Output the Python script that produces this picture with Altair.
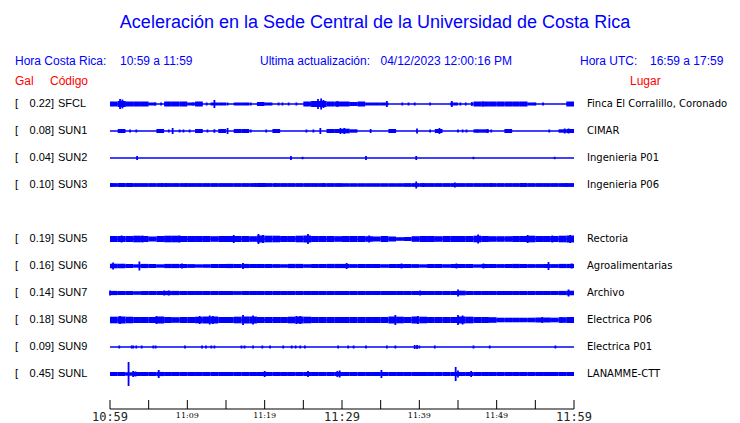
import altair as alt
import pandas as pd

# ---------------- data ----------------
STATIONS = ["SFCL", "SUN1", "SUN2", "SUN3", "SUN5", "SUN6", "SUN7", "SUN8", "SUN9", "SUNL"]
ROWS = [0, 1, 2, 3, 5, 6, 7, 8, 9, 10]
GAL = ["0.22", "0.08", "0.04", "0.10", "0.19", "0.16", "0.14", "0.18", "0.09", "0.45"]
LUGAR = ["Finca El Corralillo, Coronado", "CIMAR", "Ingenieria P01", "Ingenieria P06",
         "Rectoria", "Agroalimentarias", "Archivo", "Electrica P06", "Electrica P01", "LANAMME-CTT"]

MINUTES = list(range(60))
TICK_MINUTES = [0, 5, 10, 15, 20, 25, 30, 35, 40, 45, 50, 55, 60]
BIG_TICK_MINUTES = [0, 30, 60]
BIG_TICK_LABELS = ["10:59", "11:29", "11:59"]
SMALL_TICK_MINUTES = [10, 20, 40, 50]
SMALL_TICK_LABELS = ["11:09", "11:19", "11:39", "11:49"]

# band half-amplitude per minute (display px), 0 = quiet trace
AMP_SFCL = [2, 2.5, 2, 2, 2, 1, 0, 2, 2, 2, 1, 2, 0, 1, 1, 0, 1, 1, 0, 1.5,
            1, 0, 0, 0, 0, 2, 2.5, 2.5, 2, 2, 2, 1.5, 2, 1, 1, 1, 0, 0, 0, 0,
            0, 0, 0, 0, 1, 0, 0, 2, 2, 2, 2, 2, 2, 2, 1, 0, 0, 0, 0, 2]
AMP_SUN1 = [0, 1.5, 0, 0, 0, 0, 1.5, 0, 0, 0, 0, 1.5, 0, 0, 1.5, 0, 1.5, 1.5, 0, 0,
            0, 1.5, 0, 0, 0, 0, 0, 0, 1.5, 1.5, 1.8, 1.2, 0, 0, 0, 0, 1.5, 0, 0, 0,
            0, 0, 1.5, 0, 0, 0, 0, 1.2, 1.2, 0, 0, 1.5, 0, 0, 0, 0, 0, 0, 1.2, 1.5]
AMP_SUN2 = [0] * 60
AMP_SUN3 = [1.4, 1.4, 1.4, 1.4, 1.4, 1.4, 1.4, 1.4, 1.4, 1.4, 1.4, 1.4, 1.4, 1.4, 1.4, 1.4, 1.4, 1.4, 1.4, 1.4,
            1.4, 1.4, 1.4, 1.4, 1.4, 1.4, 1.4, 1.4, 1.4, 1.4, 1.3, 1.3, 1.3, 1.3, 1.3, 1.3, 1.3, 1.3, 1.4, 1.4,
            1.4, 1.4, 1.4, 1.4, 1.4, 1.4, 1.4, 1.4, 1.4, 1.4, 1.4, 1.4, 1.4, 1.4, 1.4, 1.4, 1.4, 1.4, 1.4, 1.4]
AMP_SUN5 = [2.5, 2.5, 2.5, 2.8, 2.5, 2, 2.5, 2.8, 2.8, 2.5, 2.5, 2.5, 2.5, 2.3, 2.5, 2.5, 2.5, 2.5, 2.3, 3,
            2.8, 2.8, 2.5, 2.5, 2.8, 3, 2.5, 2.5, 2.5, 2.3, 2.5, 2.5, 2.5, 2.3, 2, 2.5, 2, 1.3, 1.5, 2.3,
            2.5, 2.5, 2.3, 2.5, 2.5, 2.5, 2.5, 2.8, 2.5, 2.3, 2.3, 2.3, 2.5, 2.5, 2.8, 2.5, 2.5, 2.5, 2.8, 3]
AMP_SUN6 = [1.8, 1.8, 1.6, 1.2, 1.6, 1.5, 1.2, 1.6, 1.6, 1.5, 1.4, 1.2, 1.3, 1.5, 1.5, 1.6, 1.5, 1.6, 1.5, 1.4,
            1.5, 1.4, 1.3, 1.6, 1.6, 1.3, 1.5, 1.5, 1.6, 1.6, 1.6, 1.4, 1.5, 1.5, 1.5, 1.3, 1.5, 1.5, 1.5, 1.4,
            1.2, 1.5, 1.5, 1.3, 1.5, 1.5, 1.5, 1.2, 1.5, 1.5, 1.4, 1.5, 1.6, 1.5, 1.4, 1.4, 1.5, 1.4, 1.6, 1.6]
AMP_SUN7 = [1.6, 1.5, 1.5, 1.3, 1.5, 1.5, 1.5, 1.6, 1.6, 1.5, 1.5, 1.5, 1.5, 1.5, 1.5, 1.5, 1.4, 1.5, 1.5, 1.5,
            1.5, 1.5, 1.5, 1.5, 1.5, 1.5, 1.5, 1.5, 1.5, 1.5, 1.5, 1.5, 1.5, 1.5, 1.5, 1.5, 1.5, 1.5, 1.5, 1.5,
            1.5, 1.5, 1.5, 1.5, 1.5, 1.8, 1.5, 1.5, 1.5, 1.5, 1.5, 1.5, 1.5, 1.5, 1.5, 1.5, 1.5, 1.5, 1.6, 1.8]
AMP_SUN8 = [2.8, 3, 2.8, 2.5, 2.5, 2.5, 3, 2.5, 2.3, 2.5, 2.5, 2.8, 3, 3, 2.5, 2.5, 2.8, 3, 3, 2.5,
            2.5, 2.5, 2.5, 2.8, 3, 2.8, 2.5, 2.5, 2.5, 2.5, 2.5, 2.5, 2.5, 2.5, 2.5, 2.5, 3, 2.8, 2.5, 3,
            2.8, 2.5, 2.5, 2.5, 2.5, 3, 2.8, 2.5, 2.5, 2.3, 1.8, 1.8, 1.8, 1.8, 1.8, 2, 2, 1.8, 2.3, 2.5]
AMP_SUN9 = [0] * 60
AMP_SUNL = [1.5, 1.5, 1.2, 1.5, 1.5, 1.5, 1.6, 1.5, 1.5, 1.5, 1.5, 1.5, 1.5, 1.5, 1.5, 1.5, 1.5, 1.5, 1.5, 1.5,
            1.5, 1.5, 1.5, 1.5, 1.5, 1.5, 1.5, 1.5, 1.5, 1.5, 1.5, 1.5, 1.5, 1.5, 1.5, 1.5, 1.5, 1.5, 1.5, 1.5,
            1.5, 1.5, 1.5, 1.5, 1.5, 1.5, 1.5, 1.5, 1.5, 1.5, 1.5, 1.5, 1.5, 1.5, 1.5, 1.5, 1.5, 1.5, 1.5, 1.5]

# individual peaks: (minute, half-amplitude px)
SPK_SFCL = [(1.3, 5), (1.6, 4.5), (1.9, 3), (5.8, 1.5), (6.6, 1.5), (10.7, 1.5), (12.5, 1.5), (13.5, 4),
            (15.2, 1.5), (18.2, 1.5), (21.8, 1.5), (22.3, 1.5), (23.1, 1.5), (24.1, 1.5), (26.5, 3), (26.9, 5),
            (27.3, 5.5), (27.6, 4), (29.4, 3), (35.8, 3), (37.8, 1.5), (38.6, 1.5), (39.4, 1.5), (41.4, 1.5),
            (44.2, 3), (45.3, 1.5), (46.0, 1.5), (46.8, 2), (48.2, 2.5), (55.0, 1.5), (56.0, 1.5)]
SPK_SUN1 = [(1.3, 1.8), (2.6, 1.5), (3.4, 1.5), (7.6, 1.5), (8.1, 3), (9.0, 1.5), (9.5, 1.5), (10.3, 1.5),
            (12.6, 1.5), (13.5, 1.8), (15.2, 3), (18.2, 1.5), (20.2, 1.5), (25.4, 1.5), (26.3, 1.5), (27.2, 3),
            (29.8, 3), (30.3, 3), (33.7, 2), (39.7, 2.5), (41.4, 1.5), (42.6, 3), (45.0, 1.5), (45.6, 1.5),
            (46.1, 1.5), (47.5, 1.5), (48.8, 2), (49.3, 1.5), (56.8, 1.5), (58.8, 2.5), (59.3, 2.5)]
SPK_SUN2 = [(3.5, 2), (23.4, 2), (24.9, 1.2), (33.1, 2), (39.6, 2), (47.0, 1.2), (57.5, 1.2)]
SPK_SUN3 = [(0.2, 2), (6.7, 2), (7.2, 2), (9.9, 2), (18.8, 2), (20.0, 2), (21.4, 2), (27.6, 2),
            (39.6, 3.5), (40.5, 2), (44.6, 2.5), (49.3, 2), (59.0, 2)]
SPK_SUN5 = [(1.5, 3.5), (4.2, 3.5), (9.0, 3.5), (16.0, 4), (19.2, 5), (19.8, 4), (25.6, 5), (33.5, 3.5),
            (47.6, 4.5), (54.0, 4), (57.2, 3.5), (59.5, 4)]
SPK_SUN6 = [(0.4, 3.5), (3.8, 4.5), (9.3, 2.5), (17.2, 3), (30.6, 3), (37.7, 2.5), (44.8, 2.5), (48.3, 2.5),
            (56.7, 4), (59.7, 2.5)]
SPK_SUN7 = [(0.0, 2.5), (7.0, 2.5), (7.6, 2.5), (32.3, 2), (36.0, 2), (40.1, 2.5), (45.0, 3.5), (51.0, 2),
            (59.3, 3.5)]
SPK_SUN8 = [(1.3, 4), (6.0, 4), (11.6, 4), (12.9, 4.5), (13.3, 4), (17.2, 5), (18.5, 4.5), (24.1, 4),
            (24.6, 4), (36.9, 5), (39.8, 4), (45.0, 5), (45.6, 4.5), (55.9, 3), (58.4, 3)]
SPK_SUN9 = [(1.2, 1.5), (2.8, 1.5), (3.0, 1.5), (3.4, 1.5), (4.1, 1.5), (5.6, 1.5), (5.9, 1.5), (9.7, 1.5),
            (11.9, 1.5), (12.4, 1.5), (13.1, 1.5), (13.5, 1.5), (17.0, 1.5), (17.4, 1.5), (18.5, 1.5),
            (19.7, 1.5), (20.7, 1.5), (22.4, 1.5), (23.5, 1.5), (24.0, 1.5), (24.6, 1.5), (25.2, 1.5),
            (29.5, 1.5), (30.8, 1.5), (31.5, 1.5), (33.1, 1.5), (35.8, 1.5), (36.9, 1.5), (39.4, 2),
            (39.7, 2), (40.0, 1.5), (42.0, 1.5), (47.0, 1.5), (49.1, 1.5), (57.6, 1.5)]
SPK_SUNL = [(2.4, 12), (3.0, 3), (3.3, 2.5), (6.3, 4), (11.3, 2), (20.0, 3), (25.6, 3), (29.4, 3),
            (29.7, 3.5), (32.3, 2), (35.1, 4), (37.5, 2), (40.0, 2), (42.2, 2), (44.7, 7), (45.0, 3.5),
            (46.7, 3), (51.5, 2), (57.0, 2), (59.5, 2)]

AMPS = [AMP_SFCL, AMP_SUN1, AMP_SUN2, AMP_SUN3, AMP_SUN5, AMP_SUN6, AMP_SUN7, AMP_SUN8, AMP_SUN9, AMP_SUNL]
SPIKES = [SPK_SFCL, SPK_SUN1, SPK_SUN2, SPK_SUN3, SPK_SUN5, SPK_SUN6, SPK_SUN7, SPK_SUN8, SPK_SUN9, SPK_SUNL]

# ---------------- styling ----------------
BLUE = "#0000ff"
RED = "#ff0000"
SANS = "Liberation Sans"
ROW_PX = 27.0
PEN = 0.5  # half of the plotting pen width, added to drawn band height

rows_df = pd.DataFrame({"station": STATIONS, "row": ROWS, "gal": [g + "]" for g in GAL], "lugar": LUGAR,
                        "m0": 0, "m1": 60})
band_rec, spk_rec = [], []
for row, amp, spk in zip(ROWS, AMPS, SPIKES):
    for m, a in zip(MINUTES, amp):
        if a > 0:
            h = (a + PEN) / ROW_PX
            band_rec.append({"m": m, "m2": m + 1, "lo": row - h, "hi": row + h})
    for m, a in spk:
        spk_rec.append({"m": m, "lo": row - a / ROW_PX, "hi": row + a / ROW_PX})
band_df = pd.DataFrame(band_rec)
spk_df = pd.DataFrame(spk_rec)

xs = alt.Scale(domain=[0, 60], range=[102, 566])
ys = alt.Scale(domain=[0, 10], range=[96, 366])

base_line = alt.Chart(rows_df).mark_rule(color=BLUE, strokeWidth=1.5).encode(
    x=alt.X("m0:Q", scale=xs, axis=None), x2="m1:Q",
    y=alt.Y("row:Q", scale=ys, axis=None))
bands = alt.Chart(band_df).mark_rect(color=BLUE).encode(
    x=alt.X("m:Q", scale=xs, axis=None), x2="m2:Q",
    y=alt.Y("lo:Q", scale=ys, axis=None), y2="hi:Q")
spikes = alt.Chart(spk_df).mark_rule(color=BLUE, strokeWidth=1.8).encode(
    x=alt.X("m:Q", scale=xs, axis=None),
    y=alt.Y("lo:Q", scale=ys, axis=None), y2="hi:Q")

lbl_bracket = alt.Chart(rows_df).mark_text(text="[", align="left", baseline="middle", font=SANS,
                                           fontSize=11, color="black").encode(
    x=alt.value(7), y=alt.Y("row:Q", scale=ys, axis=None))
lbl_gal = alt.Chart(rows_df).mark_text(align="right", baseline="middle", font=SANS, fontSize=11,
                                       color="black").encode(
    x=alt.value(46), y=alt.Y("row:Q", scale=ys, axis=None), text="gal:N")
lbl_code = alt.Chart(rows_df).mark_text(align="left", baseline="middle", font=SANS, fontSize=11,
                                        color="black").encode(
    x=alt.value(50), y=alt.Y("row:Q", scale=ys, axis=None), text="station:N")
lbl_place = alt.Chart(rows_df).mark_text(align="left", baseline="middle", font="DejaVu Sans", fontSize=10,
                                         color="black").encode(
    x=alt.value(579), y=alt.Y("row:Q", scale=ys, axis=None), text="lugar:N")


def label(txt, x, y, color=BLUE, size=12, align="left", font=SANS):
    return alt.Chart(pd.DataFrame({"t": [txt]})).mark_text(
        align=align, baseline="middle", font=font, fontSize=size, color=color).encode(
        x=alt.value(x), y=alt.value(y), text="t:N")


texts = [
    label("Aceleración en la Sede Central de la Universidad de Costa Rica", 367, 15, size=18, align="center"),
    label("Hora Costa Rica:", 7, 53),
    label("10:59 a 11:59", 112, 53),
    label("Ultima actualización:", 252, 53),
    label("04/12/2023 12:00:16 PM", 372.5, 53),
    label("Hora UTC:", 572, 53),
    label("16:59 a 17:59", 642, 53),
    label("Gal", 7, 73, color=RED),
    label("Código", 42, 73, color=RED),
    label("Lugar", 622, 73, color=RED),
]

axis_df = pd.DataFrame({"a": [0], "b": [60]})
axis_line = alt.Chart(axis_df).mark_rule(color="black", strokeWidth=1).encode(
    x=alt.X("a:Q", scale=xs, axis=None), x2="b:Q", y=alt.value(401))
ticks = alt.Chart(pd.DataFrame({"m": TICK_MINUTES})).mark_rule(color="black", strokeWidth=1).encode(
    x=alt.X("m:Q", scale=xs, axis=None), y=alt.value(392), y2=alt.value(401))
big_lbl = alt.Chart(pd.DataFrame({"m": BIG_TICK_MINUTES, "t": BIG_TICK_LABELS})).mark_text(
    align="center", baseline="middle", font="DejaVu Sans Mono", fontSize=12, color="#222222").encode(
    x=alt.X("m:Q", scale=xs, axis=None), y=alt.value(408.5), text="t:N")
small_lbl = alt.Chart(pd.DataFrame({"m": SMALL_TICK_MINUTES, "t": SMALL_TICK_LABELS})).mark_text(
    align="center", baseline="middle", font="DejaVu Serif", fontSize=8, color="black").encode(
    x=alt.X("m:Q", scale=xs, axis=None), y=alt.value(408), text="t:N")

chart = alt.layer(
    base_line, bands, spikes, lbl_bracket, lbl_gal, lbl_code, lbl_place, *texts,
    axis_line, ticks, big_lbl, small_lbl
).properties(
    width=724, height=401,
    autosize=alt.AutoSizeParams(type="none"),
    padding={"left": 0, "top": 0, "right": 0, "bottom": 14},
    background="white",
).configure_view(stroke=None)

chart.save("out.html", embed_options={"renderer": "svg", "actions": False})
